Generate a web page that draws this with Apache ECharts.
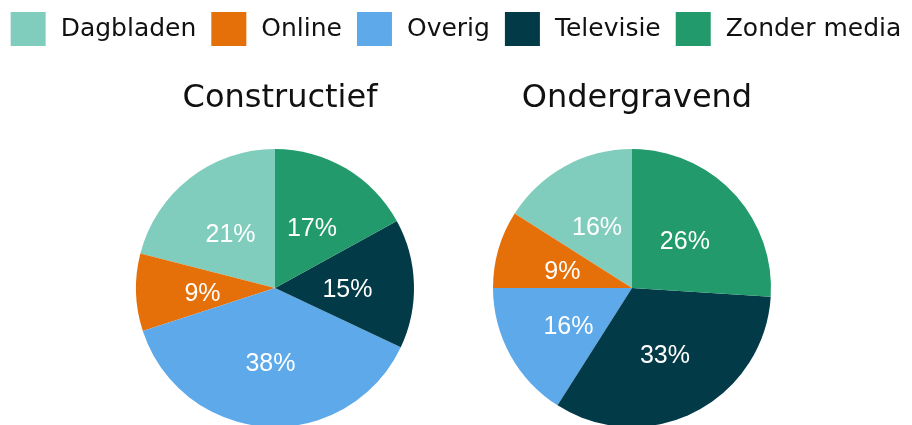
<!DOCTYPE html>
<html>
<head>
<meta charset="utf-8">
<script src="https://cdn.jsdelivr.net/npm/echarts@6/dist/echarts.min.js"></script>
<style>html,body{margin:0;padding:0;background:#fff;}#c{width:912px;height:425px;}</style>
</head>
<body>
<div id="c"></div>
<script>
const categories = ['Dagbladen', 'Online', 'Overig', 'Televisie', 'Zonder media'];
const colors = ['#80cdbd', '#e5700a', '#5da9e9', '#033a48', '#229a6c'];
const panelTitles = ['Constructief', 'Ondergravend'];
const constructief = [21, 9, 38, 15, 17];
const ondergravend = [16, 9, 16, 33, 26];

const chart = echarts.init(document.getElementById('c'), null, {renderer: 'canvas'});
function pieSeries(name, values, cx) {
  return {
    type: 'pie', name: name,
    center: [cx, 288], radius: 139,
    startAngle: 90, clockwise: false,
    silent: true,
    label: {
      show: true, position: 'inside',
      formatter: p => p.value + '%',
      color: '#fff', fontFamily: 'Liberation Sans', fontSize: 25,
      offset: [0, 4]
    },
    labelLine: {show: false},
    itemStyle: {borderWidth: 0},
    emphasis: {disabled: true},
    data: categories.map((c, i) => ({name: c, value: values[i]}))
  };
}
chart.setOption({
  animation: false,
  color: colors,
  title: [
    {text: panelTitles[0], left: 275, top: 78, textAlign: 'center',
     textStyle: {fontFamily: 'DejaVu Sans', fontSize: 32, fontWeight: 'normal', color: '#111'}},
    {text: panelTitles[1], left: 632, top: 78, textAlign: 'center',
     textStyle: {fontFamily: 'DejaVu Sans', fontSize: 32, fontWeight: 'normal', color: '#111'}}
  ],
  legend: {
    data: categories, top: 7, left: 'center',
    icon: 'rect', itemWidth: 35, itemHeight: 34, itemGap: 15,
    selectedMode: false,
    textStyle: {fontFamily: 'DejaVu Sans', fontSize: 25, color: '#111', padding: [0, 0, 0, 10]}
  },
  series: [pieSeries(panelTitles[0], constructief, 275), pieSeries(panelTitles[1], ondergravend, 632)]
});
</script>
</body>
</html>
